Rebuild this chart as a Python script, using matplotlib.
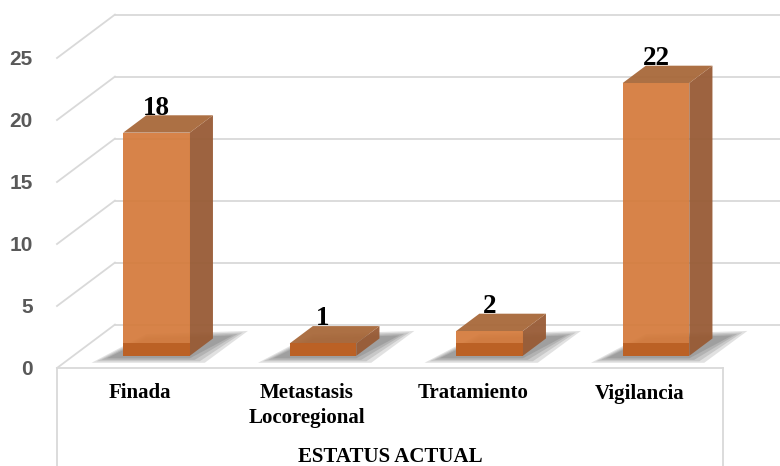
import matplotlib.pyplot as plt
from matplotlib.patches import Polygon

categories = ['Finada', 'Metastasis\nLocoregional', 'Tratamiento', 'Vigilancia']
values = [18, 1, 2, 22]
ticks = [0, 5, 10, 15, 20, 25]
axis_title = 'ESTATUS ACTUAL'

# fake 3d layout, in data units (x = category slot, y = value)
DX, DY = 0.348, 3.5      # depth of floor / side wall
BAR_W = 0.40
F0, F1 = 0.28, 0.68      # bar front / back as fraction of depth

front_c = '#d47a3b'
top_c = '#a8683a'
side_c = '#985b35'
base_c = '#b95e22'
grid_c = '#d9d9d9'

fig = plt.figure(figsize=(7.8, 4.66), dpi=100)
ax = fig.add_axes([0, 0, 1, 1])
ax.set_xlim(-57 / 166.5, 723 / 166.5)
ax.set_ylim(-98 / 12.4, 368 / 12.4)
ax.axis('off')

n = len(categories)

# back wall and side wall
for t in ticks:
    ax.plot([DX, n + DX + 0.2], [t + DY, t + DY], color=grid_c, lw=1.3, zorder=1)
    ax.plot([0, DX], [t, t + DY], color=grid_c, lw=1.3, zorder=1)
    ax.text(-0.145, t - 0.1, str(t), ha='right', va='center', fontsize=15,
            fontweight='bold', family='Liberation Sans', color='#595959')

# floor front edge and category box
ax.plot([0, n], [0, 0], color=grid_c, lw=1.3, zorder=1)
ax.plot([0, 0], [0, -9], color=grid_c, lw=1.3, zorder=1)
ax.plot([n, n], [0, -9], color=grid_c, lw=1.3, zorder=1)

bdx = (F1 - F0) * DX
bdy = (F1 - F0) * DY
for i, v in enumerate(values):
    x0 = i + 0.5 - BAR_W / 2 + F0 * DX
    y0 = F0 * DY
    x1 = x0 + BAR_W

    # soft shadow on the floor
    for k in range(4):
        e = 0.03 * k
        shadow = [(x0 - 0.1 - e, y0 - 0.2 - e * 4), (x1 + e, y0 - 0.2 - e * 4),
                  (x1 + bdx + 0.12 + e, y0 + bdy + 0.25 + e * 4),
                  (x0 + bdx, y0 + bdy + e * 4)]
        ax.add_patch(Polygon(shadow, closed=True, color='#303030', alpha=0.14,
                             lw=0, zorder=2))

    side = [(x1, y0), (x1 + bdx, y0 + bdy), (x1 + bdx, y0 + bdy + v), (x1, y0 + v)]
    top = [(x0, y0 + v), (x1, y0 + v), (x1 + bdx, y0 + v + bdy), (x0 + bdx, y0 + v + bdy)]
    ax.add_patch(Polygon(side, closed=True, color=side_c, alpha=0.95, lw=0, zorder=3))
    ax.add_patch(Polygon(top, closed=True, color=top_c, alpha=0.95, lw=0, zorder=3))
    ax.add_patch(plt.Rectangle((x0, y0), BAR_W, v, color=front_c, alpha=0.93,
                               lw=0, zorder=3))
    ax.add_patch(plt.Rectangle((x0, y0), BAR_W, min(v, 1.0), color=base_c,
                               alpha=0.9, lw=0, zorder=4))

    ax.text(x0 + BAR_W / 2, y0 + v + bdy + 0.05, str(v), ha='center', va='baseline',
            fontsize=19.5, fontweight='bold', family='Liberation Serif', color='black',
            zorder=5)

    ax.text(i + 0.5, -1.25, categories[i], ha='center', va='top', fontsize=15,
            fontweight='bold', family='Liberation Serif', linespacing=1.3)

ax.text(n / 2, -7.55, axis_title, ha='center', va='baseline', fontsize=15,
        fontweight='bold', family='Liberation Serif')

fig.savefig('out.png', dpi=100)
